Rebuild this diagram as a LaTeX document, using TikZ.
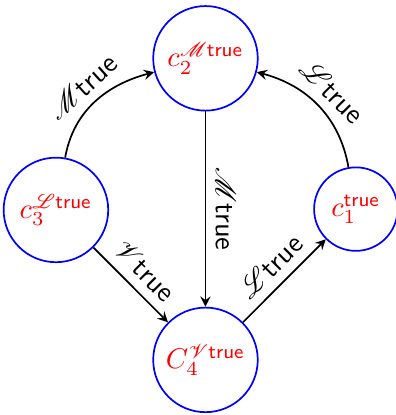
\documentclass[tikz,border=0pt]{standalone}
\usepackage{mathrsfs}
\usetikzlibrary{arrows}
\tikzset{
  cnode/.style={circle,draw=blue,text=red,semithick,inner sep=0pt,minimum size=1.29cm},
  cnodesmall/.style={cnode,minimum size=1.03cm}
}
\begin{document}
\begin{tikzpicture}[>=stealth,semithick]
\useasboundingbox (0,0) rectangle (4.88,-5.12);
\node[cnode] (c2) at (2.535,-0.72) {$c_2^{\mathscr{M}\mathsf{true}}$};
\node[cnode] (c3) at (0.69,-2.59) {$c_3^{\mathscr{L}\mathsf{true}}$};
\node[cnodesmall] (c1) at (4.39,-2.58) {$c_1^{\mathsf{true}}$};
\node[cnode] (c4) at (2.535,-4.44) {$C_4^{\mathscr{V}\mathsf{true}}$};
% arrows
\draw[->] (c3) to[out=80,in=195] node[above,sloped] {$\mathscr{M}\mathsf{true}$} (c2);
\draw[->] (c1) to[out=100,in=-15] node[above,sloped] {$\mathscr{L}\mathsf{true}$} (c2);
\draw[->] (c2) -- node[above,sloped] {$\mathscr{M}\mathsf{true}$} (c4);
\draw[->] (c3) -- node[above,sloped] {$\mathscr{V}\mathsf{true}$} (c4);
\draw[->] (c4) -- node[above,sloped] {$\mathscr{L}\mathsf{true}$} (c1);
\end{tikzpicture}
\end{document}
